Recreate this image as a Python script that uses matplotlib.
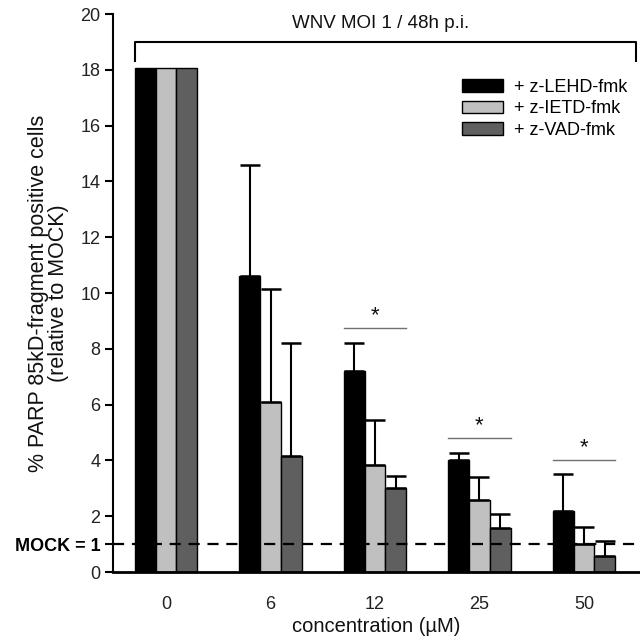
import numpy as np
import matplotlib
matplotlib.use('Agg')
import matplotlib.pyplot as plt

plt.rcParams['font.family'] = ['Liberation Sans', 'DejaVu Sans']

# datos
concentraciones = ['0', '6', '12', '25', '50']
series = ['+ z-LEHD-fmk', '+ z-IETD-fmk', '+ z-VAD-fmk']
lehd = [18.05, 10.6, 7.2, 4.0, 2.2]
lehd_err = [0.0, 4.0, 1.02, 0.28, 1.3]
ietd = [18.05, 6.1, 3.83, 2.58, 1.0]
ietd_err = [0.0, 4.05, 1.62, 0.84, 0.62]
vad = [18.05, 4.15, 3.0, 1.58, 0.57]
vad_err = [0.0, 4.05, 0.45, 0.49, 0.56]
estrellas = [False, False, True, True, True]
altura_estrella = [0, 0, 8.74, 4.79, 4.0]
mock = 1

colores = ['#000000', '#c0c0c0', '#5f5f5f']
ancho = 0.2

fig = plt.figure(figsize=(6.4, 6.38), dpi=100)
ax = fig.add_axes([0.1766, 0.1034, 0.8234, 0.8746])

x = np.arange(len(concentraciones))
valores = [lehd, ietd, vad]
errores = [lehd_err, ietd_err, vad_err]
for i, (v, e) in enumerate(zip(valores, errores)):
    pos = x + (i - 1) * ancho
    ax.bar(pos, v, width=ancho, color=colores[i], edgecolor='black',
           linewidth=1.0, label=series[i], zorder=2)
    e = np.array(e)
    mask = e > 0
    ax.errorbar(pos[mask], np.array(v)[mask], yerr=[np.zeros(mask.sum()), e[mask]],
                fmt='none', ecolor='black', elinewidth=1.5, capsize=7,
                capthick=1.8, zorder=3)

# linea MOCK
ax.axhline(mock, color='black', linestyle=(0, (5, 3.5)), linewidth=1.6, zorder=4)

# significancia
for i, (s, h) in enumerate(zip(estrellas, altura_estrella)):
    if s:
        ax.plot([x[i] - 1.5 * ancho, x[i] + 1.5 * ancho], [h, h], color='#707070',
                linewidth=1.0, zorder=2)
        ax.text(x[i], h + 0.45, '*', ha='center', va='center', fontsize=16,
                color='#111111')

# corchete superior
ax.plot([-0.3, -0.3, 4.5, 4.5], [18.3, 18.98, 18.98, 18.3], color='black',
        linewidth=1.5, clip_on=False, zorder=3)
ax.text(2.05, 19.65, 'WNV MOI 1 / 48h p.i.', ha='center', va='center',
        fontsize=13.5, color='#111111')

ax.set_xlim(-0.507, 4.536)
ax.set_ylim(0, 20)
ax.set_xticks(x)
ax.set_xticklabels(concentraciones, fontsize=13, color='#222222')
ax.tick_params(axis='x', length=0, pad=17)

yt = [0, 1, 2, 4, 6, 8, 10, 12, 14, 16, 18, 20]
ax.set_yticks(yt)
ax.set_yticklabels(['0', 'MOCK = 1'] + [str(t) for t in yt[2:]], fontsize=13,
                   color='#222222')
ax.get_yticklabels()[1].set_fontweight('bold')
ax.get_yticklabels()[1].set_color('black')
ax.tick_params(axis='y', length=6, width=1.5, pad=3)

for lado in ['top', 'right']:
    ax.spines[lado].set_visible(False)
ax.spines['left'].set_linewidth(1.5)
ax.spines['bottom'].set_linewidth(2.0)

ax.set_xlabel('concentration (\u00b5M)', fontsize=14.5, color='#111111', labelpad=3)
ax.set_ylabel('% PARP 85kD-fragment positive cells\n(relative to MOCK)',
              fontsize=15.5, color='#111111', linespacing=0.93)
ax.yaxis.set_label_coords(-0.083, 0.5)

ax.legend(loc='upper left', bbox_to_anchor=(0.645, 0.90), frameon=False,
          fontsize=13, handlelength=2.3, handleheight=0.7, labelspacing=0.25,
          handletextpad=0.6, borderpad=0)

fig.savefig('out.png', dpi=100)
